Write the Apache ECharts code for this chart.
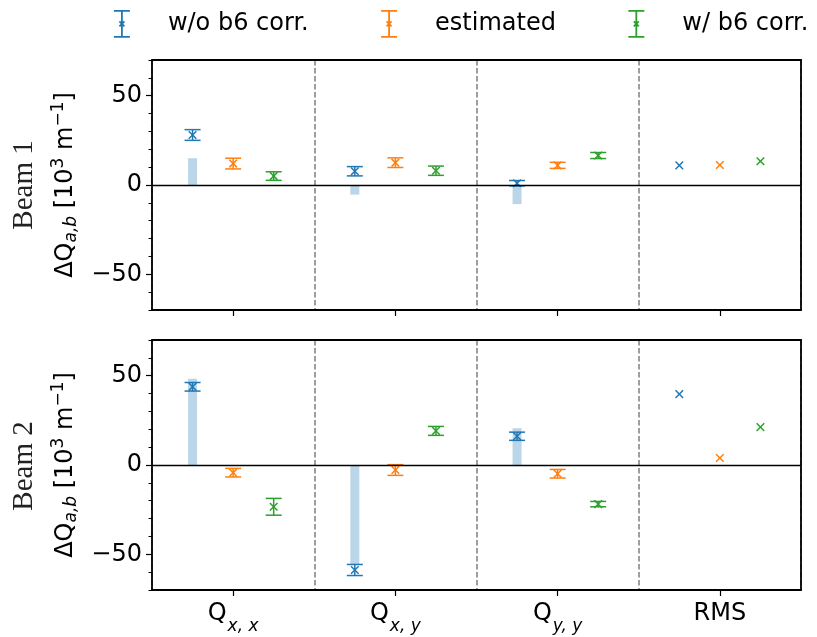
<!DOCTYPE html>
<html>
<head>
<meta charset="utf-8">
<script src="https://cdn.jsdelivr.net/npm/echarts@6/dist/echarts.min.js"></script>
<style>
  html, body { margin: 0; padding: 0; background: #fff; }
  #chart { width: 817px; height: 637px; }
</style>
</head>
<body>
<div id="chart"></div>
<script>
// categories and labels
var categories = ['Qxx', 'Qxy', 'Qyy', 'RMS'];
var catMain = ['Q', 'Q', 'Q', 'RMS'];
var catSub = ['x, x', 'x, y', 'y, y', ''];
var seriesNames = ['w/o b6 corr.', 'estimated', 'w/ b6 corr.'];
var seriesColors = ['#1f77b4', '#ff7f0e', '#2ca02c'];
var yLabelTicks = [-50, 0, 50];
var yMinorTicks = [-70, -60, -40, -30, -20, -10, 10, 20, 30, 40, 60, 70];

// Beam 1
var b1NoCorr = [28, 7.7, 1, 11];
var b1NoCorrErr = [3, 2.6, 1.5, null];
var b1Est = [12, 12.5, 11, 11.2];
var b1EstErr = [3, 2.7, 1.7, null];
var b1Corr = [5, 8, 16.5, 13.3];
var b1CorrErr = [2.4, 2.6, 1.7, null];
var b1Bars = [15, -5.4, -10.7, null];

// Beam 2
var b2NoCorr = [43.8, -58.8, 16.1, 39.7];
var b2NoCorrErr = [2.4, 3.1, 2.3, null];
var b2Est = [-4.3, -2.8, -4.9, 3.9];
var b2EstErr = [2.4, 3, 2.4, null];
var b2Corr = [-23.4, 19.1, -21.9, 21.2];
var b2CorrErr = [4.7, 2.5, 1.5, null];
var b2Bars = [48.3, -55.6, 20.6, null];

var offsets = [-0.25, 0, 0.25];
var FONT = 'DejaVu Sans';
var FRAME = { color: '#000', width: 1.8 };

function minus(v) { return String(v).replace('-', '\u2212'); }

function toData(vals, errs) {
  return vals.map(function (v, i) { return [i, v, errs[i] == null ? NaN : errs[i]]; });
}

function errRender(offset) {
  return function (params, api) {
    var v = api.value(1), e = api.value(2);
    var band = api.size([1, 0])[0];
    var p = api.coord([api.value(0), v]);
    var x = p[0] + offset * band, y = p[1];
    var st = { stroke: api.visual('color'), lineWidth: 1.5, fill: null };
    var m = 3.8, cap = 8;
    var kids = [
      { type: 'line', shape: { x1: x - m, y1: y - m, x2: x + m, y2: y + m }, style: st },
      { type: 'line', shape: { x1: x - m, y1: y + m, x2: x + m, y2: y - m }, style: st }
    ];
    if (isFinite(e)) {
      var hi = api.coord([api.value(0), v + e])[1];
      var lo = api.coord([api.value(0), v - e])[1];
      kids.push({ type: 'line', shape: { x1: x, y1: hi, x2: x, y2: lo }, style: st });
      kids.push({ type: 'line', shape: { x1: x - cap, y1: hi, x2: x + cap, y2: hi }, style: st });
      kids.push({ type: 'line', shape: { x1: x - cap, y1: lo, x2: x + cap, y2: lo }, style: st });
    }
    return { type: 'group', children: kids };
  };
}

function barRender(params, api) {
  var band = api.size([1, 0])[0];
  var p0 = api.coord([api.value(0), 0]);
  var p1 = api.coord([api.value(0), api.value(1)]);
  var x = p0[0] - 0.25 * band;
  return {
    type: 'rect',
    shape: { x: x - 4.5, y: Math.min(p0[1], p1[1]), width: 9, height: Math.abs(p1[1] - p0[1]) },
    style: { fill: 'rgba(31,119,180,0.3)' }
  };
}

var grids = [
  { left: 152, right: 16, top: 60, height: 250 },
  { left: 152, right: 16, top: 340, height: 250 }
];

var xAxes = [], yAxes = [], series = [];
var beams = [
  { bars: b1Bars, vals: [b1NoCorr, b1Est, b1Corr], errs: [b1NoCorrErr, b1EstErr, b1CorrErr] },
  { bars: b2Bars, vals: [b2NoCorr, b2Est, b2Corr], errs: [b2NoCorrErr, b2EstErr, b2CorrErr] }
];

beams.forEach(function (beam, g) {
  var xi = xAxes.length, yi = yAxes.length;
  xAxes.push({
    type: 'category', gridIndex: g, position: 'bottom', data: categories, boundaryGap: true,
    axisLine: { show: true, onZero: false, lineStyle: FRAME },
    axisTick: { show: true, interval: 0, alignWithLabel: true, length: 6, lineStyle: { color: '#000', width: 1.2 } },
    splitLine: { show: true, interval: 0, lineStyle: { color: '#7f7f7f', width: 1.5, type: [5.5, 2.5] } },
    axisLabel: {
      show: g === 1, interval: 0, margin: 12, color: '#000', fontFamily: FONT, fontSize: 24,
      formatter: function (val, idx) {
        return catSub[idx] ? '{m|' + catMain[idx] + '}{s|' + catSub[idx] + '}' : '{m|' + catMain[idx] + '}';
      },
      rich: {
        m: { fontFamily: FONT, fontSize: 24, color: '#000', lineHeight: 28, verticalAlign: 'top' },
        s: { fontFamily: FONT, fontSize: 17, fontStyle: 'italic', color: '#000', lineHeight: 17, verticalAlign: 'bottom', padding: [0, 0, -5, 1] }
      }
    }
  });
  xAxes.push({
    type: 'category', gridIndex: g, position: 'top', data: categories, z: 5,
    axisLine: { show: true, onZero: false, lineStyle: FRAME },
    axisTick: { show: false }, axisLabel: { show: false }, splitLine: { show: false }
  });
  yAxes.push({
    type: 'value', gridIndex: g, position: 'left', min: -70, max: 70, z: 5,
    name: '{n|\u0394Q}{s|a,b}{n| [10}{p|3}{n| m}{p|\u22121}{n|]}',
    nameLocation: 'middle', nameRotate: 90, nameGap: 70,
    nameTextStyle: {
      rich: {
        n: { fontFamily: FONT, fontSize: 24, color: '#000', lineHeight: 30 },
        s: { fontFamily: FONT, fontSize: 17, fontStyle: 'italic', color: '#000', lineHeight: 17, verticalAlign: 'bottom' },
        p: { fontFamily: FONT, fontSize: 17, color: '#000', lineHeight: 17, verticalAlign: 'top' }
      }
    },
    axisLine: { show: true, onZero: false, lineStyle: FRAME },
    axisTick: { show: true, length: 6, customValues: yLabelTicks, lineStyle: { color: '#000', width: 1.2 } },
    axisLabel: { show: true, customValues: yLabelTicks, margin: 10, color: '#000', fontFamily: FONT, fontSize: 24, formatter: minus },
    splitLine: { show: false }
  });
  yAxes.push({
    type: 'value', gridIndex: g, position: 'left', min: -70, max: 70,
    axisLine: { show: false },
    axisTick: { show: true, length: 3.5, customValues: yMinorTicks, lineStyle: { color: '#000', width: 1 } },
    axisLabel: { show: false }, splitLine: { show: false }
  });
  yAxes.push({
    type: 'value', gridIndex: g, position: 'right', min: -70, max: 70, z: 5,
    axisLine: { show: true, onZero: false, lineStyle: FRAME },
    axisTick: { show: false }, axisLabel: { show: false }, splitLine: { show: false }
  });

  series.push({
    type: 'custom', name: 'bars' + g, xAxisIndex: xi, yAxisIndex: yi, z: 1,
    renderItem: barRender, encode: { x: 0, y: 1 },
    data: beam.bars.map(function (v, i) { return [i, v == null ? NaN : v]; }).filter(function (d) { return isFinite(d[1]); }),
    markLine: {
      silent: true, symbol: 'none', label: { show: false },
      lineStyle: { color: '#000', width: 1.4, type: 'solid' },
      data: [{ yAxis: 0 }]
    }
  });
  seriesNames.forEach(function (name, s) {
    series.push({
      type: 'custom', name: name, xAxisIndex: xi, yAxisIndex: yi, z: 3,
      itemStyle: { color: seriesColors[s] },
      renderItem: errRender(offsets[s]), encode: { x: 0, y: 1 },
      data: toData(beam.vals[s], beam.errs[s])
    });
  });
});

var legendIcon = 'path://M0,0 L16,0 M8,0 L8,26 M0,26 L16,26 M5.5,10.5 L10.5,15.5 M10.5,10.5 L5.5,15.5';

var option = {
  animation: false,
  backgroundColor: '#fff',
  grid: grids,
  xAxis: xAxes,
  yAxis: yAxes,
  legend: {
    left: 108, top: 5, itemWidth: 82, itemHeight: 26, itemGap: 71.5,
    textStyle: { fontFamily: FONT, fontSize: 24, color: '#000' },
    data: seriesNames.map(function (n, i) {
      return {
        name: n, icon: legendIcon,
        itemStyle: { color: 'rgba(0,0,0,0)', borderColor: seriesColors[i], borderWidth: 1.8 }
      };
    })
  },
  graphic: [
    { type: 'text', x: 24, y: 185, rotation: Math.PI / 2,
      style: { text: 'Beam 1', fontFamily: 'Liberation Serif', fontSize: 29, fill: '#222', align: 'center', verticalAlign: 'middle' } },
    { type: 'text', x: 24, y: 466, rotation: Math.PI / 2,
      style: { text: 'Beam 2', fontFamily: 'Liberation Serif', fontSize: 29, fill: '#222', align: 'center', verticalAlign: 'middle' } }
  ],
  series: series
};

var chart = echarts.init(document.getElementById('chart'), null, { renderer: 'canvas' });
chart.setOption(option);
</script>
</body>
</html>
